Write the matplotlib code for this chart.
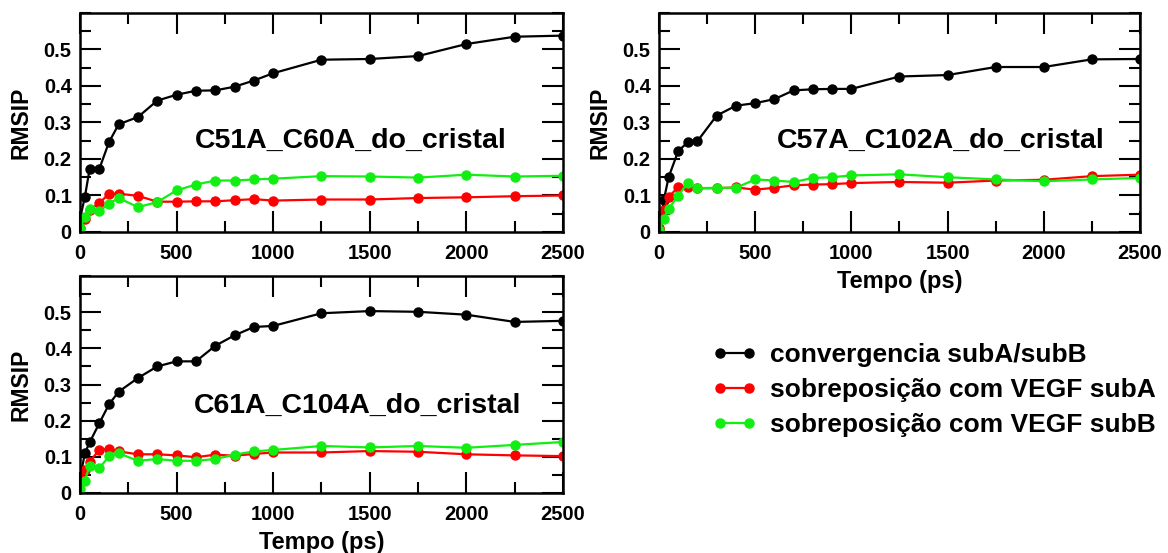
import matplotlib
matplotlib.use('Agg')
import matplotlib.pyplot as plt
from matplotlib.ticker import MultipleLocator

plt.rcParams['font.family'] = ['Liberation Sans', 'DejaVu Sans']
plt.rcParams['font.weight'] = 'bold'
plt.rcParams['axes.labelweight'] = 'bold'

tempo = [0, 25, 50, 100, 150, 200, 300, 400, 500, 600, 700, 800, 900, 1000,
         1250, 1500, 1750, 2000, 2250, 2500]

# C51A_C60A
c51_conv = [0.036, 0.096, 0.173, 0.173, 0.246, 0.295, 0.315, 0.360, 0.376, 0.387,
            0.388, 0.398, 0.415, 0.435, 0.472, 0.474, 0.482, 0.515, 0.535, 0.538]
c51_subA = [0.010, 0.036, 0.060, 0.079, 0.105, 0.105, 0.099, 0.083, 0.083, 0.084,
            0.084, 0.087, 0.090, 0.086, 0.089, 0.089, 0.093, 0.095, 0.098, 0.100]
c51_subB = [0.011, 0.041, 0.062, 0.057, 0.078, 0.093, 0.068, 0.082, 0.114, 0.130,
            0.141, 0.141, 0.144, 0.146, 0.153, 0.152, 0.149, 0.157, 0.152, 0.154]

# C57A_C102A
c57_conv = [0.005, 0.087, 0.150, 0.222, 0.246, 0.249, 0.319, 0.346, 0.353, 0.364,
            0.388, 0.391, 0.392, 0.392, 0.426, 0.430, 0.452, 0.452, 0.473, 0.474]
c57_subA = [0.010, 0.060, 0.096, 0.123, 0.123, 0.120, 0.120, 0.122, 0.116, 0.121,
            0.128, 0.130, 0.131, 0.134, 0.137, 0.135, 0.141, 0.143, 0.153, 0.157]
c57_subB = [0.005, 0.036, 0.064, 0.099, 0.135, 0.120, 0.121, 0.121, 0.144, 0.141,
            0.137, 0.148, 0.150, 0.155, 0.158, 0.150, 0.144, 0.139, 0.144, 0.148]

# C61A_C104A
c61_conv = [0.040, 0.110, 0.140, 0.193, 0.245, 0.280, 0.318, 0.350, 0.364, 0.364,
            0.407, 0.436, 0.459, 0.462, 0.497, 0.503, 0.501, 0.493, 0.473, 0.476]
c61_subA = [0.039, 0.064, 0.087, 0.119, 0.122, 0.115, 0.107, 0.107, 0.104, 0.099,
            0.106, 0.103, 0.108, 0.112, 0.112, 0.116, 0.114, 0.107, 0.104, 0.102]
c61_subB = [0.012, 0.034, 0.076, 0.069, 0.101, 0.110, 0.089, 0.094, 0.089, 0.089,
            0.094, 0.106, 0.115, 0.119, 0.130, 0.126, 0.130, 0.125, 0.133, 0.141]

labels = ['convergencia subA/subB', 'sobreposição com VEGF subA', 'sobreposição com VEGF subB']
colors = ['black', '#ff0000', '#11ee11']

# name, series, axes rect, x label?, title position (axes fraction)
panels = [
    ('C51A_C60A_do_cristal', [c51_conv, c51_subA, c51_subB],
     [0.0685, 0.5805, 0.4135, 0.396], False, (0.56, 0.385)),
    ('C57A_C102A_do_cristal', [c57_conv, c57_subA, c57_subB],
     [0.5642, 0.5805, 0.4118, 0.396], True, (0.585, 0.385)),
    ('C61A_C104A_do_cristal', [c61_conv, c61_subA, c61_subB],
     [0.0685, 0.1085, 0.4135, 0.3924], True, (0.575, 0.37)),
]

fig = plt.figure(figsize=(11.68, 5.53), dpi=100)

handles = []
for title, series, pos, xlab, tpos in panels:
    ax = fig.add_axes(pos)
    hs = []
    for ys, col, lab in zip(series, colors, labels):
        h, = ax.plot(tempo, ys, color=col, marker='o', markersize=6.5, linewidth=1.6, label=lab)
        hs.append(h)
    handles = hs
    ax.set_xlim(0, 2500)
    ax.set_ylim(0, 0.6)
    ax.xaxis.set_major_locator(MultipleLocator(500))
    ax.xaxis.set_minor_locator(MultipleLocator(250))
    ax.yaxis.set_minor_locator(MultipleLocator(0.05))
    ax.set_yticks([0, 0.1, 0.2, 0.3, 0.4, 0.5])
    ax.set_yticklabels(['0', '0.1', '0.2', '0.3', '0.4', '0.5'])
    ax.tick_params(which='both', direction='in', top=True, right=True, labelsize=14.5, width=1.5)
    ax.tick_params(which='major', length=15)
    ax.tick_params(which='minor', length=8)
    ax.tick_params(axis='y', pad=6)
    ax.tick_params(axis='x', pad=9)
    for s in ax.spines.values():
        s.set_linewidth(1.8)
    ax.set_ylabel('RMSIP', fontsize=16.5, labelpad=8)
    if xlab:
        ax.set_xlabel('Tempo (ps)', fontsize=17, labelpad=5)
    ax.text(tpos[0], tpos[1], title, transform=ax.transAxes, ha='center', va='baseline',
            fontsize=20.5, fontweight='bold')

fig.legend(handles, labels, loc='center left', bbox_to_anchor=(0.6096, 0.2948),
           frameon=False, fontsize=19, handlelength=1.7, numpoints=2,
           labelspacing=0.42, handletextpad=0.5, borderpad=0, borderaxespad=0)

fig.savefig('out.png', dpi=100)
